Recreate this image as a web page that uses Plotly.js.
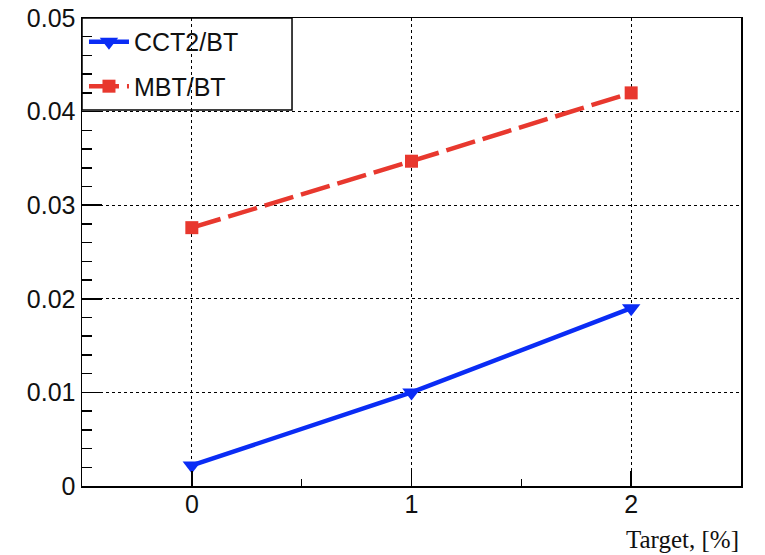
<!DOCTYPE html>
<html>
<head>
<meta charset="utf-8">
<script src="https://cdn.plot.ly/plotly-3.0.1.min.js"></script>
<style>html,body{margin:0;padding:0;background:#fff;}#chart{width:765px;height:555px;}</style>
</head>
<body>
<div id="chart"></div>
<script>
var targets = [0, 1, 2];
var cct2 = [0.0022, 0.0100, 0.0190];
var mbt = [0.0276, 0.0347, 0.0420];
var seriesNames = ['CCT2/BT', 'MBT/BT'];
var xTickVals = [0, 1, 2];
var xTickText = ['0', '1', '2'];
var yTickVals = [0, 0.01, 0.02, 0.03, 0.04, 0.05];
var yTickText = ['0', '0.01', '0.02', '0.03', '0.04', '0.05'];
var xTitle = 'Target, [%]';

var blue = '#0a2cf5';
var red = '#e8382e';

var traces = [
  {x: targets, y: cct2, name: seriesNames[0], legendgroup: 'g1', type: 'scatter', mode: 'lines+markers',
   line: {color: blue, width: 4.5}, marker: {symbol: 'triangle-down', size: 16, color: blue}},
  {x: targets, y: mbt, name: seriesNames[1], legendgroup: 'g2', type: 'scatter', mode: 'lines+markers',
   line: {color: red, width: 4.5, dash: '30px,8px'}, marker: {symbol: 'square', size: 13, color: red}}
];

var layout = {
  width: 765, height: 555,
  margin: {l: 82, r: 24, t: 18, b: 69},
  paper_bgcolor: '#fff', plot_bgcolor: '#fff',
  font: {family: 'Liberation Sans, Arial, sans-serif', size: 25, color: '#111'},
  showlegend: true,
  legend: {x: 0.003, y: 0.998, xanchor: 'left', yanchor: 'top', bgcolor: 'rgba(0,0,0,0)',
           borderwidth: 0, font: {size: 25}, itemwidth: 40,
           tracegroupgap: 9},
  shapes: [{type: 'rect', xref: 'paper', yref: 'paper', x0: 0, x1: 0.3187, y0: 0.8034, y1: 1,
            line: {color: '#000', width: 1.5}, fillcolor: '#fff', layer: 'below'}],
  xaxis: {range: [-0.5, 2.5], tickvals: xTickVals, ticktext: xTickText,
          ticks: 'inside', ticklen: 15, tickwidth: 1.5, tickcolor: '#000',
          ticklabelstandoff: -5,
          showline: true, linecolor: '#000', linewidth: 1.5, mirror: true,
          showgrid: true, gridcolor: '#000', griddash: 'dot', gridwidth: 1,
          zeroline: false,
          minor: {dtick: 0.5, tick0: 0, ticks: 'inside', ticklen: 7, tickcolor: '#000', tickwidth: 1.5, showgrid: false}},
  yaxis: {range: [0, 0.05], tickvals: yTickVals, ticktext: yTickText,
          ticks: 'inside', ticklen: 20, tickwidth: 1.5, tickcolor: '#000',
          showline: true, linecolor: '#000', linewidth: 1.5, mirror: true,
          showgrid: true, gridcolor: '#000', griddash: 'dot', gridwidth: 1,
          zeroline: false,
          minor: {dtick: 0.002, tick0: 0, ticks: 'inside', ticklen: 10, tickcolor: '#000', tickwidth: 1.5, showgrid: false}},
  annotations: [{text: xTitle, xref: 'paper', yref: 'paper', x: 1, y: 0, xanchor: 'right', yanchor: 'top',
                 yshift: -38, showarrow: false,
                 font: {family: 'Liberation Serif, Times New Roman, serif', size: 25, color: '#111'}}]
};

Plotly.newPlot('chart', traces, layout, {displayModeBar: false, staticPlot: true});
</script>
</body>
</html>
